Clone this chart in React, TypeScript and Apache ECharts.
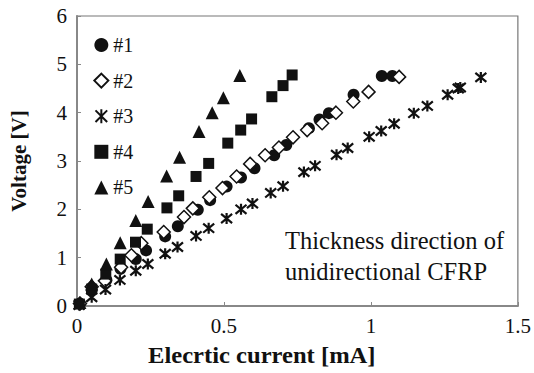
import React, { useEffect, useRef } from "react";
import * as echarts from "echarts";

const seriesNames = ["#1", "#2", "#3", "#4", "#5"];

const s1X = [0.01, 0.05, 0.1, 0.148, 0.2, 0.235, 0.3, 0.343, 0.411, 0.453, 0.509, 0.558, 0.604, 0.671, 0.712, 0.789, 0.825, 0.857, 0.941, 1.037, 1.073];
const s1Y = [0.05, 0.33, 0.54, 0.77, 0.97, 1.15, 1.44, 1.65, 1.99, 2.19, 2.47, 2.66, 2.85, 3.12, 3.33, 3.68, 3.86, 3.99, 4.37, 4.76, 4.76];

const s2X = [0.01, 0.05, 0.095, 0.15, 0.185, 0.219, 0.295, 0.364, 0.394, 0.45, 0.495, 0.543, 0.589, 0.64, 0.687, 0.735, 0.783, 0.834, 0.881, 0.94, 0.992, 1.096];
const s2Y = [0.05, 0.4, 0.52, 0.8, 1.05, 1.3, 1.53, 1.84, 2.02, 2.25, 2.44, 2.68, 2.94, 3.12, 3.28, 3.49, 3.64, 3.78, 4.0, 4.23, 4.43, 4.74];

const s3X = [0.007, 0.05, 0.097, 0.146, 0.2, 0.241, 0.3, 0.342, 0.405, 0.448, 0.509, 0.558, 0.597, 0.659, 0.701, 0.772, 0.81, 0.883, 0.921, 0.994, 1.035, 1.079, 1.146, 1.192, 1.261, 1.297, 1.304, 1.374];
const s3Y = [0.02, 0.18, 0.34, 0.54, 0.73, 0.87, 1.08, 1.22, 1.45, 1.61, 1.81, 2.0, 2.12, 2.34, 2.48, 2.77, 2.9, 3.13, 3.27, 3.5, 3.62, 3.77, 3.99, 4.14, 4.37, 4.5, 4.52, 4.73];

const s4X = [0.008, 0.05, 0.098, 0.147, 0.199, 0.239, 0.306, 0.346, 0.405, 0.448, 0.513, 0.557, 0.594, 0.663, 0.701, 0.732];
const s4Y = [0.04, 0.35, 0.66, 0.97, 1.32, 1.59, 2.03, 2.28, 2.68, 2.95, 3.37, 3.64, 3.87, 4.33, 4.56, 4.78];

const s5X = [0.01, 0.05, 0.1, 0.147, 0.2, 0.242, 0.305, 0.349, 0.415, 0.46, 0.498, 0.554];
const s5Y = [0.07, 0.455, 0.87, 1.31, 1.77, 2.16, 2.69, 3.08, 3.61, 4.0, 4.31, 4.77];

const xTicks = ["0", "0.5", "1", "1.5"];
const xTitle = "Elecrtic current [mA]";
const yTitle = "Voltage [V]";
const annotationLines = ["Thickness direction of", "unidirectional CFRP"];

const INK = "#111";
const SERIF = "'Liberation Serif', 'Times New Roman', serif";
const STAR = "path://M0,0 L10,10 M10,0 L0,10 M5,-1 L5,11";

function zip(xs: number[], ys: number[]) {
  return xs.map((x, i) => [x, ys[i]]);
}

export default function App() {
  const ref = useRef<HTMLDivElement>(null);
  useEffect(() => {
    if (!ref.current) return;
    const chart = echarts.init(ref.current, undefined, { renderer: "svg" });
    const data = [zip(s1X, s1Y), zip(s2X, s2Y), zip(s3X, s3Y), zip(s4X, s4Y), zip(s5X, s5Y)];
    const symbols = ["circle", "diamond", STAR, "rect", "triangle"];
    const sizes = [12, 13, 11, 11, 13];
    const styles: any[] = [
      { color: INK, opacity: 1 },
      { color: "#fff", borderColor: INK, borderWidth: 1.5, opacity: 1 },
      { color: "none", borderColor: INK, borderWidth: 2.2, opacity: 1 },
      { color: INK, opacity: 1 },
      { color: INK, opacity: 1 },
    ];
    chart.setOption({
      animation: false,
      backgroundColor: "#fff",
      grid: {
        left: 77,
        right: 14,
        top: 16,
        bottom: 67,
        show: true,
        borderColor: "#777",
        borderWidth: 1.2,
      },
      legend: {
        orient: "vertical",
        left: 88,
        top: 30,
        itemGap: 15.6,
        itemWidth: 14,
        itemHeight: 14,
        data: seriesNames,
        textStyle: { fontFamily: SERIF, fontSize: 20, color: INK, lineHeight: 20 },
      },
      xAxis: {
        type: "value",
        min: 0,
        max: 1.5,
        interval: 0.5,
        axisLine: { show: true, lineStyle: { color: "#888", width: 2 } },
        axisTick: { show: true, inside: true, length: 4, lineStyle: { color: "#888" } },
        splitLine: { show: false },
        axisLabel: {
          margin: 9,
          fontFamily: SERIF,
          fontSize: 21,
          color: INK,
          formatter: (v: number) => xTicks[Math.round(v / 0.5)] ?? String(v),
        },
      },
      yAxis: {
        type: "value",
        min: 0,
        max: 6,
        interval: 1,
        axisLine: { show: true, lineStyle: { color: "#888", width: 2 } },
        axisTick: { show: true, inside: true, length: 4, lineStyle: { color: "#888" } },
        splitLine: { show: false },
        axisLabel: { margin: 10, fontFamily: SERIF, fontSize: 21, color: INK },
        name: yTitle,
        nameLocation: "middle",
        nameGap: 48,
        nameTextStyle: { fontFamily: SERIF, fontSize: 21, fontWeight: "bold", color: INK },
      },
      graphic: [
        {
          type: "text",
          left: 285,
          top: 225,
          style: {
            text: annotationLines.join("\n"),
            fontFamily: SERIF,
            fontSize: 24.5,
            lineHeight: 31,
            fill: INK,
          },
        },
        {
          type: "text",
          x: 148,
          y: 355,
          scaleX: 1.07,
          style: {
            text: xTitle,
            fontFamily: SERIF,
            fontSize: 23,
            fontWeight: "bold",
            fill: INK,
            verticalAlign: "middle",
            align: "left",
          },
        },
      ],
      series: seriesNames.map((name, i) => ({
        name,
        type: "scatter",
        data: data[i],
        symbol: symbols[i],
        symbolSize: sizes[i],
        itemStyle: styles[i],
        emphasis: { disabled: true },
      })),
    });
    return () => chart.dispose();
  }, []);
  return <div ref={ref} style={{ width: 534, height: 373, position: "absolute", left: 0, top: 0 }} />;
}
